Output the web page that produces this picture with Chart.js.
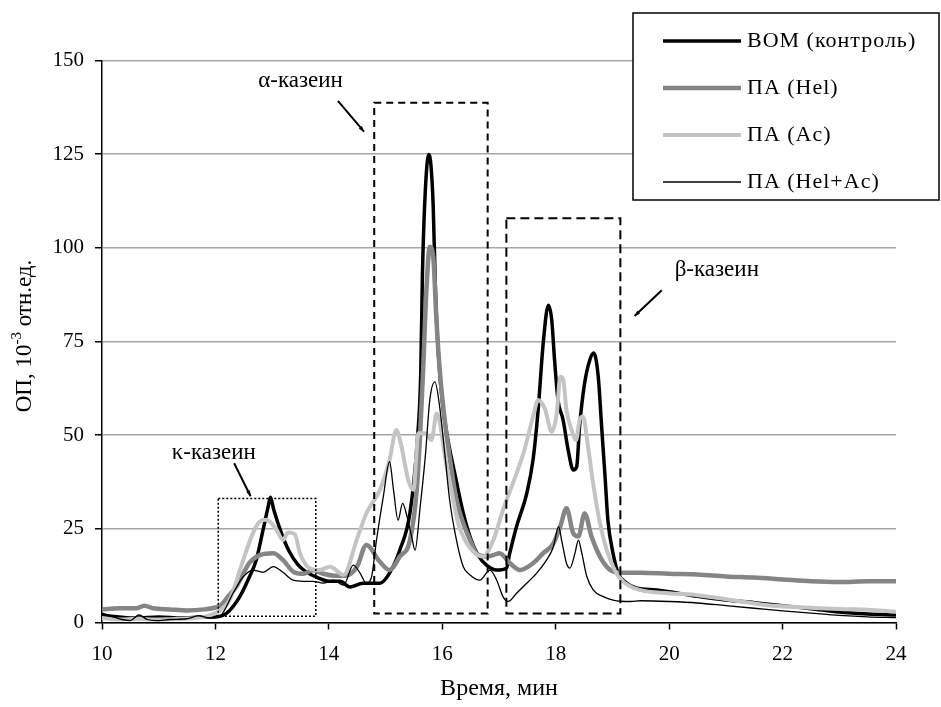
<!DOCTYPE html>
<html>
<head>
<meta charset="utf-8">
<script src="https://cdn.jsdelivr.net/npm/chart.js@4"></script>
<style>
html,body{margin:0;padding:0;background:#fff;}
#wrap{width:941px;height:707px;position:relative;}
</style>
</head>
<body>
<div id="wrap"><canvas id="c" width="941" height="707"></canvas></div>
<script>
// ---- data ----
const seriesNames = ["ВОМ (контроль)", "ПА (Hel)", "ПА (Ac)", "ПА (Hel+Ac)"];

const timeBOM = [10,10.3,10.6,11,11.4,11.8,12.0,12.2,12.43,12.6,12.72,12.84,12.93,12.97,13.03,13.16,13.3,13.45,13.6,13.8,14.0,14.2,14.37,14.6,14.9,15.07,15.25,15.43,15.56,15.62,15.65,15.70,15.76,15.80,15.84,15.88,15.93,16.01,16.10,16.22,16.37,16.51,16.63,16.78,16.96,17.13,17.19,17.31,17.49,17.60,17.69,17.78,17.87,17.93,17.98,18.04,18.13,18.22,18.31,18.37,18.42,18.51,18.60,18.67,18.75,18.81,18.87,18.92,19.01,19.10,19.25,19.42,19.78,20.0,20.5,21.0,21.5,22.0,22.5,23.0,23.5,24.0];
const valBOM  = [2,1.5,1.2,1.5,1.2,1.5,1.5,2.5,6.9,12.2,16.7,24.7,30.9,33.4,30,24,19,15.5,13.5,12,11,11,9.5,10.5,10.5,13.2,19.3,29.2,48.7,66.5,93,115,124.9,122,111,88.7,71.9,57.6,48.7,39.8,29.2,22,18,15.3,14,14.5,18.5,25.6,34.5,43.4,56.7,74.6,84.7,80.7,70,59.4,54.1,46,40.7,41.6,52.2,63.9,70,71.9,65.6,52.2,38.9,27.3,18.5,13.2,10.5,9.2,8.7,8.2,7,6,5.3,4.5,3.7,2.8,2.3,2];

const timeHel = [10,10.3,10.6,10.75,10.9,11.2,11.5,11.8,12.0,12.1,12.2,12.37,12.6,12.78,13.02,13.19,13.37,13.55,13.72,13.9,14.1,14.3,14.5,14.66,14.9,15.07,15.25,15.43,15.55,15.61,15.66,15.72,15.78,15.84,15.9,15.96,16.05,16.13,16.25,16.37,16.49,16.6,16.78,16.9,17.01,17.19,17.37,17.6,17.78,17.96,18.08,18.19,18.31,18.4,18.51,18.63,18.78,18.96,19.13,19.5,20.0,20.5,21.0,21.5,22.0,22.5,23.0,23.5,24.0];
const valHel  = [3.5,3.8,3.8,4.5,3.8,3.5,3.2,3.5,4,4.7,6.5,9.6,15.9,18,18.5,16.7,13.6,13,14,13,12.5,12.5,15,20.7,16.2,14,17.6,22,35.4,50.5,66.5,88.7,100.3,97.6,79.9,66.5,53.2,44.2,32.7,26.5,22,18.5,17.6,18,18.5,15.9,14,15.8,18.5,21.1,25.6,30.5,23.8,23,29.1,23,17.6,14,13.3,13.3,13,12.8,12.3,12,11.5,11,10.8,11,11];

const timeAc = [10,10.3,10.6,11,11.4,11.8,12.0,12.1,12.25,12.49,12.66,12.78,12.9,13.08,13.19,13.28,13.4,13.49,13.66,13.84,14.02,14.26,14.49,14.66,14.9,15.07,15.19,15.28,15.4,15.49,15.58,15.7,15.81,15.9,15.96,16.05,16.16,16.28,16.4,16.55,16.72,16.9,17.07,17.31,17.43,17.6,17.69,17.81,17.93,18.02,18.08,18.13,18.19,18.28,18.36,18.42,18.48,18.57,18.66,18.78,18.9,19.04,19.19,19.48,20.0,20.5,21.1,21.7,22.3,23.0,23.5,24.0];
const valAc  = [1.2,0.8,1,0.8,1,1.5,2.5,3.5,6,16.7,23.8,26.9,27.4,24.7,22,24,23.6,18.5,14.5,14,14.9,12.7,22,29.1,35.4,43.4,51.4,47,38,35.4,50.5,50.5,48.7,55.8,53,44,35.4,26.5,22,18.9,17.6,22,30,39.8,45.1,54.9,59.4,57,50.9,56,65.6,65,56.7,51.4,48.7,54,55,46.9,37.1,26.5,19.3,14,10.9,8.7,7.8,7.3,6,4.7,4.1,3.6,3.4,2.9];

const timeHelAc = [10,10.2,10.35,10.5,10.65,10.8,10.95,11.2,11.5,11.7,11.9,12.1,12.31,12.49,12.66,12.84,13.02,13.19,13.37,13.55,13.72,13.9,14.08,14.26,14.43,14.55,14.66,14.75,14.84,14.96,15.07,15.14,15.22,15.3,15.38,15.46,15.52,15.61,15.7,15.78,15.87,15.95,16.05,16.13,16.25,16.37,16.49,16.66,16.84,16.96,17.07,17.16,17.31,17.43,17.66,17.84,17.96,18.05,18.11,18.19,18.25,18.34,18.4,18.46,18.55,18.66,18.84,19.01,19.31,19.5,20.0,20.5,21.0,21.5,22.0,22.5,23.0,23.5,24.0];
const valHelAc  = [2.5,1.5,0.8,0.5,2,0.8,0.5,0.8,1,1.8,1.2,2,7.8,12.2,14,13.4,14.9,13.4,11.3,11,11,10.5,11.3,10,15.3,13.2,10.5,12,22,33.6,42.9,35.4,27.3,31.8,28.2,22.9,19.3,30.9,44.2,59.4,64.2,58,44.2,32.7,22,14.9,12.7,11.3,14,11.3,6.9,5.6,7.8,9.6,13.1,16.7,20.2,25.6,21.5,15.8,14.5,18.5,22,18.5,12.2,8.7,6.9,6,5.6,5.8,5.6,5.2,4.5,3.8,3.1,2.5,1.9,1.5,1.3];

const xTicks = [10,12,14,16,18,20,22,24];
const yTicks = [0,25,50,75,100,125,150];

// annotation regions in data units: [tStart, tEnd, vLow, vHigh]
const kappaBox = [12.05, 13.77, 1.7, 33.1];
const alphaBox = [14.8, 16.8, 2.4, 138.7];
const betaBox  = [17.13, 19.14, 2.4, 107.9];
// annotation labels: [t, v, text]
const kappaLabel = [11.97, 45.3, "κ-казеин"];
const alphaLabel = [13.5, 144.5, "α-казеин"];
const betaLabel  = [20.84, 94, "β-казеин"];
// arrows: [t1, v1, t2, v2]
const kappaArrow = [12.33, 42.5, 12.62, 33.7];
const alphaArrow = [14.16, 139.2, 14.62, 131.0];
const betaArrow  = [19.87, 88.7, 19.39, 81.8];

function pts(t, v){ return t.map((x,i)=>({x:x, y:v[i]})); }

const FONT = '"Liberation Serif", "Times New Roman", serif';

const annotPlugin = {
  id: 'annot',
  afterDatasetsDraw(chart){
    const ctx = chart.ctx, xs = chart.scales.x, ys = chart.scales.y;
    const X = v => xs.getPixelForValue(v), Y = v => ys.getPixelForValue(v);
    ctx.save();
    function box(b, dash, w){
      ctx.setLineDash(dash); ctx.lineWidth = w; ctx.strokeStyle = '#000';
      ctx.strokeRect(X(b[0]), Y(b[3]), X(b[1]) - X(b[0]), Y(b[2]) - Y(b[3]));
    }
    box(kappaBox, [2,2], 1.5);
    box(alphaBox, [7,5], 2);
    box(betaBox, [9,5], 2);
    ctx.setLineDash([]);
    function arrow(a){
      const x1=X(a[0]), y1=Y(a[1]), x2=X(a[2]), y2=Y(a[3]);
      ctx.lineWidth = 2; ctx.strokeStyle = '#000';
      ctx.beginPath(); ctx.moveTo(x1,y1); ctx.lineTo(x2,y2); ctx.stroke();
      const ang = Math.atan2(y2-y1, x2-x1), L = 6;
      ctx.beginPath(); ctx.moveTo(x2,y2);
      ctx.lineTo(x2 - L*Math.cos(ang-0.35), y2 - L*Math.sin(ang-0.35));
      ctx.lineTo(x2 - L*Math.cos(ang+0.35), y2 - L*Math.sin(ang+0.35));
      ctx.closePath(); ctx.fillStyle='#000'; ctx.fill();
    }
    arrow(kappaArrow); arrow(alphaArrow); arrow(betaArrow);
    ctx.font = '23px ' + FONT; ctx.fillStyle = '#000';
    ctx.textAlign = 'center'; ctx.textBaseline = 'middle';
    [kappaLabel, alphaLabel, betaLabel].forEach(l => ctx.fillText(l[2], X(l[0]), Y(l[1])));
    ctx.restore();
  },
  afterDraw(chart){
    const ctx = chart.ctx;
    ctx.save();
    // y-axis title with superscript
    ctx.translate(25, 336);
    ctx.rotate(-Math.PI/2);
    ctx.fillStyle = '#000';
    ctx.textBaseline = 'middle';
    const big = '23px ' + FONT, small = '15px ' + FONT;
    const p1 = 'ОП, 10', p2 = '-3', p3 = ' отн.ед.';
    ctx.font = big; const w1 = ctx.measureText(p1).width, w3 = ctx.measureText(p3).width;
    ctx.font = small; const w2 = ctx.measureText(p2).width;
    let x = -(w1+w2+w3)/2;
    ctx.textAlign = 'left';
    ctx.font = big; ctx.fillText(p1, x, 0); x += w1;
    ctx.font = small; ctx.fillText(p2, x, -8); x += w2;
    ctx.font = big; ctx.fillText(p3, x, 0);
    ctx.restore();

    // legend box
    ctx.save();
    const L = {x0: 633, y0: 13, x1: 939, y1: 200, rows: [41, 88, 135, 182], lx0: 663, lx1: 741, tx: 747};
    ctx.fillStyle = '#fff';
    ctx.fillRect(L.x0, L.y0, L.x1-L.x0, L.y1-L.y0);
    ctx.strokeStyle = '#000'; ctx.lineWidth = 1.5;
    ctx.strokeRect(L.x0, L.y0, L.x1-L.x0, L.y1-L.y0);
    chart.data.datasets.forEach((ds, i) => {
      const y = L.rows[i];
      ctx.strokeStyle = ds.borderColor; ctx.lineWidth = ds.borderWidth;
      ctx.beginPath(); ctx.moveTo(L.lx0, y); ctx.lineTo(L.lx1, y); ctx.stroke();
      ctx.fillStyle = '#000';
      ctx.font = '22px ' + FONT;
      if ('letterSpacing' in ctx) ctx.letterSpacing = '1px';
      ctx.textAlign = 'left'; ctx.textBaseline = 'middle';
      ctx.fillText(ds.label, L.tx, y);
    });
    ctx.restore();
  }
};

new Chart(document.getElementById('c'), {
  type: 'line',
  data: {
    datasets: [
      {label: seriesNames[0], data: pts(timeBOM, valBOM), borderColor: '#000000', borderWidth: 3.5, order: 4},
      {label: seriesNames[1], data: pts(timeHel, valHel), borderColor: '#858585', borderWidth: 4.5, order: 3},
      {label: seriesNames[2], data: pts(timeAc, valAc), borderColor: '#c4c4c4', borderWidth: 4, order: 2},
      {label: seriesNames[3], data: pts(timeHelAc, valHelAc), borderColor: '#000000', borderWidth: 1.3, order: 1}
    ]
  },
  options: {
    responsive: false,
    animation: false,
    elements: { point: { radius: 0 }, line: { cubicInterpolationMode: 'monotone', borderJoinStyle: 'round', borderCapStyle: 'round' } },
    layout: { padding: { top: 60.5, right: 45, left: 0, bottom: 0 } },
    plugins: { legend: { display: false }, tooltip: { enabled: false } },
    scales: {
      x: {
        type: 'linear', min: 10, max: 24,
        afterBuildTicks(s){ s.ticks = xTicks.map(v => ({value: v})); },
        ticks: { color: '#000', font: { family: FONT, size: 21 }, padding: 12, maxRotation: 0 },
        grid: { drawOnChartArea: false, drawTicks: true, tickLength: 7, tickColor: '#000', tickWidth: 1.5 },
        border: { display: true, color: '#000', width: 1.5 },
        title: { display: true, text: 'Время, мин', color: '#000', font: { family: FONT, size: 24 }, padding: { top: 4, bottom: 4 } },
        afterFit(s){ s.height = 84.5; }
      },
      y: {
        min: 0, max: 150,
        afterBuildTicks(s){ s.ticks = yTicks.map(v => ({value: v})); },
        ticks: { color: '#000', font: { family: FONT, size: 21 }, padding: 11 },
        grid: { color: '#a6a6a6', lineWidth: 1.5, drawTicks: true, tickLength: 7, tickColor: '#000', tickWidth: 1.5 },
        border: { display: true, color: '#000', width: 1.5 },
        afterFit(s){ s.width = 102; }
      }
    }
  },
  plugins: [annotPlugin]
});
</script>
</body>
</html>
